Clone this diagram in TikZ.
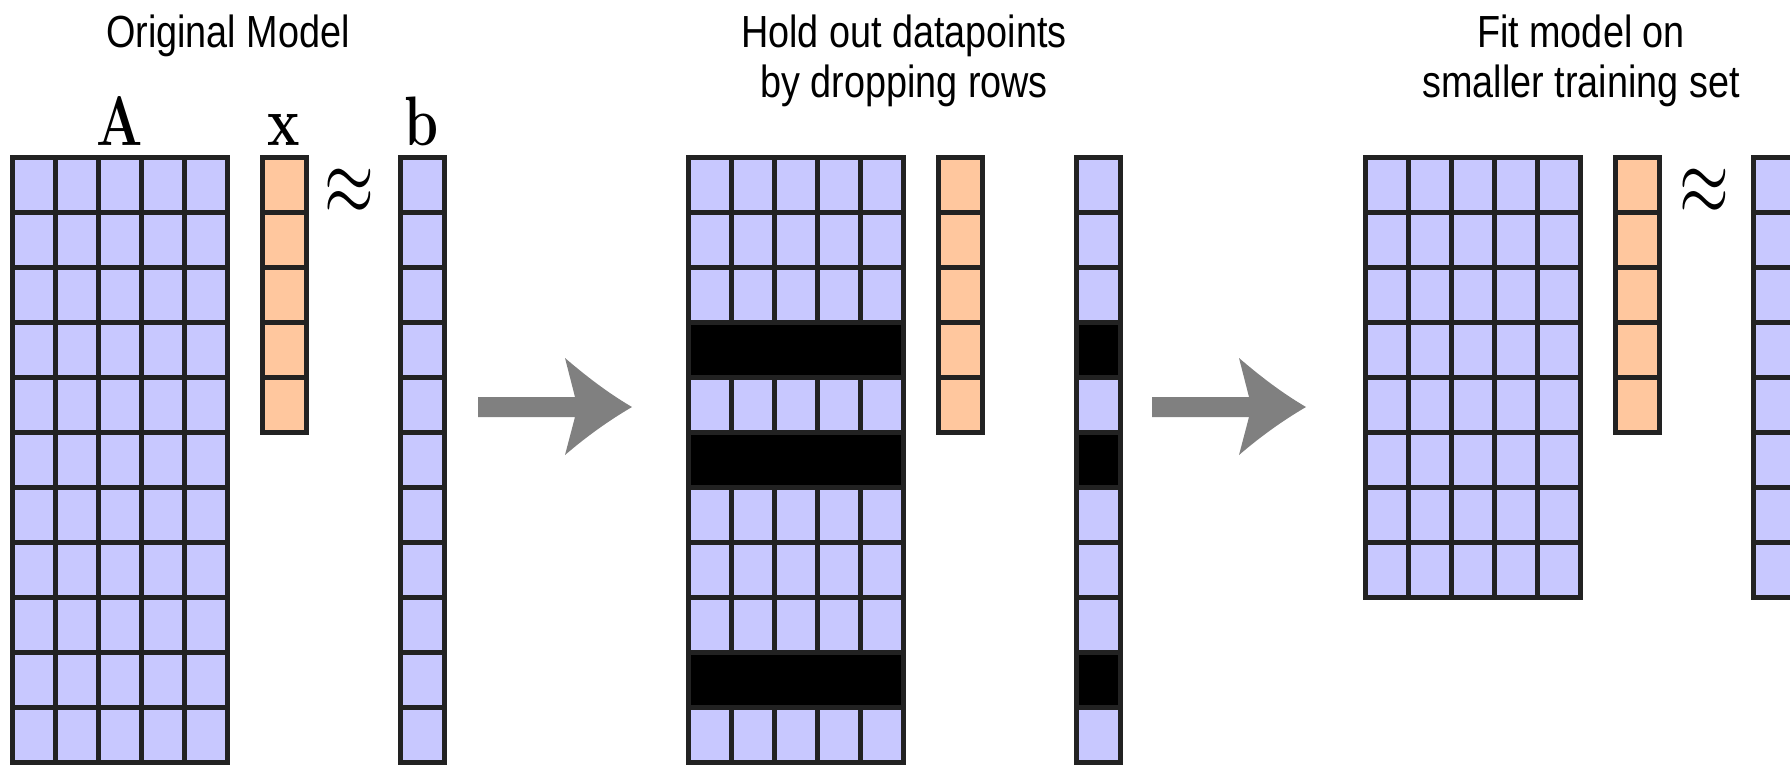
\RequirePackage{fix-cm}
\documentclass[tikz,border=0pt]{standalone}
\usepackage[no-math]{fontspec}
\setmainfont{Liberation Sans}[FakeStretch=0.84]
\usepackage{xcolor}
\usepackage{tikz}

\definecolor{cellblue}{RGB}{200,200,255}
\definecolor{cellorange}{RGB}{255,199,158}
\definecolor{gridline}{RGB}{34,34,34}
\definecolor{arrowgray}{RGB}{128,128,128}

\tikzset{
  cell/.style={draw=gridline, line width=5pt, fill=cellblue},
  xcell/.style={cell, fill=cellorange},
  dropped/.style={cell, fill=black},
  title/.style={font=\fontsize{45}{50}\selectfont, align=center, anchor=base, inner sep=0pt},
  symb/.style={font=\fontsize{70}{80}\selectfont, anchor=base, inner sep=0pt},
  approxsign/.style={font=\fontsize{64}{70}\selectfont, inner sep=0pt},
  arrowfill/.style={fill=arrowgray}
}

% letters are set a little narrow, like the titles
\newcommand{\squish}[1]{\scalebox{0.78}[1]{#1}}
% thick gray arrow, starting at the middle of the shaft
\newcommand{\grayarrow}[1]{%
  \fill[arrowfill] #1 ++(0,-10) -- ++(97,0) -- ++(-10,-39)
    .. controls +(21,18) and +(-24,-14) .. ++(67,49)
    .. controls +(-24,14) and +(21,-18) .. ++(-67,48)
    -- ++(10,-38) -- ++(-97,0) -- cycle;}

\begin{document}
\begin{tikzpicture}[x=1pt, y=-1pt]
\useasboundingbox (0,0) rectangle (1790,764);

% Original model: A x ~ b
\node[title] (t1) at (228,47) {Original Model};
\foreach \r in {0,...,10}
  \foreach \c in {0,...,4}
    \draw[cell] (12+43*\c, 157+55*\r) rectangle ++(43,55);
\foreach \r in {0,...,4}
  \draw[xcell] (262, 157+55*\r) rectangle ++(44,55);
\foreach \r in {0,...,10}
  \draw[cell] (400, 157+55*\r) rectangle ++(44,55);
\node[symb] (A1) at (119.5,145) {\squish{$\mathbf{A}$}};
\node[symb] (x1) at (284,145) {\squish{$\mathbf{x}$}};
\node[symb] (b1) at (422,145) {\squish{$\mathbf{b}$}};
\node[approxsign] (eq1) at (349,192) {\scalebox{1}[1.5]{$\approx$}};

% Dropped rows
\coordinate (arrowA) at (478,407);
\grayarrow{(arrowA)}
\node[title] (t2) at (904,97) {Hold out datapoints\\by dropping rows};
\begin{scope}[shift={(676,0)}]
  \foreach \r in {0,1,2,4,6,7,8,10}
    \foreach \c in {0,...,4}
      \draw[cell] (12+43*\c, 157+55*\r) rectangle ++(43,55);
  \foreach \r in {3,5,9}
    \draw[dropped] (12, 157+55*\r) rectangle ++(215,55);
  \foreach \r in {0,...,4}
    \draw[xcell] (262, 157+55*\r) rectangle ++(44,55);
  \foreach \r in {0,1,2,4,6,7,8,10}
    \draw[cell] (400, 157+55*\r) rectangle ++(44,55);
  \foreach \r in {3,5,9}
    \draw[dropped] (400, 157+55*\r) rectangle ++(44,55);
\end{scope}

% Smaller training set
\coordinate (arrowB) at (1152,407);
\grayarrow{(arrowB)}
\node[title] (t3) at (1581,97) {Fit model on\\smaller training set};
\begin{scope}[shift={(1353,0)}]
  \foreach \r in {0,...,7}
    \foreach \c in {0,...,4}
      \draw[cell] (12+43*\c, 157+55*\r) rectangle ++(43,55);
  \foreach \r in {0,...,4}
    \draw[xcell] (262, 157+55*\r) rectangle ++(44,55);
  \foreach \r in {0,...,7}
    \draw[cell] (400, 157+55*\r) rectangle ++(44,55);
  \node[approxsign] (eq3) at (351,192) {\scalebox{1}[1.5]{$\approx$}};
\end{scope}
\end{tikzpicture}
\end{document}
